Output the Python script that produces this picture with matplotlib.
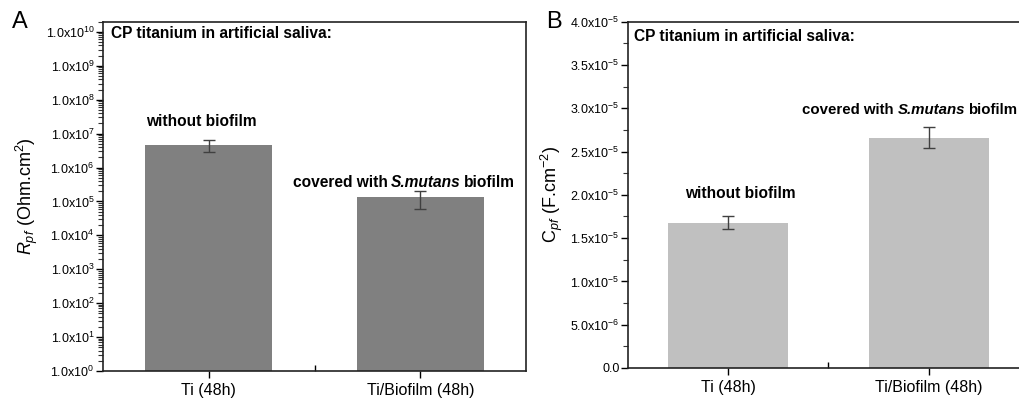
import numpy as np
import matplotlib.pyplot as plt
from matplotlib.ticker import FixedLocator, FuncFormatter, NullFormatter, MultipleLocator

plt.rcParams['font.family'] = 'Liberation Sans'
plt.rcParams['mathtext.fontset'] = 'custom'
plt.rcParams['mathtext.rm'] = 'Liberation Sans'
plt.rcParams['mathtext.it'] = 'Liberation Sans:italic'
plt.rcParams['mathtext.bf'] = 'Liberation Sans:bold'

samples = ['Ti (48h)', 'Ti/Biofilm (48h)']
rpf = [4.6e6, 1.35e5]
rpf_err = [1.7e6, 0.75e5]
cpf = [1.68e-5, 2.66e-5]
cpf_err = [0.08e-5, 0.12e-5]

x = np.arange(1, len(samples) + 1)

fig = plt.figure(figsize=(10.19, 3.99), dpi=100)
axA = fig.add_axes([0.1011, 0.0702, 0.4151, 0.8754])
axB = fig.add_axes([0.6163, 0.0777, 0.3935, 0.8679])

errkw = dict(ecolor='#404040', elinewidth=1, capsize=4, capthick=1)
fs_note = 11.2


def covered_label(ax, xpos, ypos, size=fs_note):
    # plain bold + bold italic species name + plain bold
    t1 = ax.text(xpos, ypos, 'covered with', fontsize=size, fontweight='bold', va='baseline')
    t2 = ax.annotate('S.mutans', xy=(1, 0), xycoords=t1, xytext=(2.6, 0), textcoords='offset points',
                     fontsize=size, fontweight='bold', fontstyle='italic', va='bottom')
    ax.annotate('biofilm', xy=(1, 0), xycoords=t2, xytext=(2.4, 0), textcoords='offset points',
                fontsize=size, fontweight='bold', va='bottom')


# panel A, log scale
axA.bar(x, rpf, width=0.6, color='#808080', yerr=rpf_err, error_kw=errkw, zorder=2)
axA.set_yscale('log')
axA.set_ylim(1, 2e10)
axA.yaxis.set_major_locator(FixedLocator([10.0 ** k for k in range(0, 11)]))
axA.yaxis.set_major_formatter(FuncFormatter(lambda v, p: '1.0x10$^{%d}$' % round(np.log10(v))))
axA.yaxis.set_minor_locator(FixedLocator([m * 10.0 ** k for k in range(0, 11) for m in range(2, 10)]))
axA.yaxis.set_minor_formatter(NullFormatter())
axA.set_ylabel('$R_{pf}$ (Ohm.cm$^{2}$)', fontsize=13, labelpad=4)
axA.text(0.54, 1.45e10, 'CP titanium in artificial saliva:', fontsize=fs_note, fontweight='bold', va='top')
axA.text(0.967, 1.4e7, 'without biofilm', fontsize=fs_note, fontweight='bold', ha='center', va='bottom')
covered_label(axA, 1.396, 2.6e5)
axA.text(-0.215, 1.0, 'A', transform=axA.transAxes, fontsize=17, va='center')

# panel B, linear scale
axB.bar(x, cpf, width=0.6, color='#c0c0c0', yerr=cpf_err, error_kw=errkw, zorder=2)
axB.set_ylim(0, 4e-5)
axB.yaxis.set_major_locator(MultipleLocator(5e-6))
axB.yaxis.set_minor_locator(MultipleLocator(2.5e-6))


def fmtB(v, p):
    if abs(v) < 1e-12:
        return '0.0'
    e = int(np.floor(np.log10(abs(v)) + 1e-9))
    return '%.1fx10$^{%d}$' % (v / 10.0 ** e, e)


axB.yaxis.set_major_formatter(FuncFormatter(fmtB))
axB.set_ylabel('C$_{\\it{pf}}$ (F.cm$^{-2}$)', fontsize=13, labelpad=4)
axB.text(0.53, 3.92e-5, 'CP titanium in artificial saliva:', fontsize=fs_note, fontweight='bold', va='top')
axB.text(1.06, 1.93e-5, 'without biofilm', fontsize=fs_note, fontweight='bold', ha='center', va='bottom')
covered_label(axB, 1.37, 2.93e-5, size=10.8)
axB.text(-0.205, 1.0, 'B', transform=axB.transAxes, fontsize=17, va='center')

for ax in (axA, axB):
    ax.set_xlim(0.5, 2.5)
    ax.set_xticks(x)
    ax.set_xticklabels(samples, fontsize=11.5)
    ax.set_xticks([1.5], minor=True)
    ax.tick_params(axis='x', which='major', direction='out', length=5, width=1)
    ax.tick_params(axis='x', which='minor', direction='in', length=4, width=1)
    ax.tick_params(axis='y', which='major', direction='out', length=5, width=1, labelsize=9, pad=1)
    ax.tick_params(axis='y', which='minor', direction='out', length=3.5, width=0.8, color='#333333')
    for s in ax.spines.values():
        s.set_linewidth(1.2)
        s.set_color('#222222')

fig.savefig('out.png', dpi=100)
